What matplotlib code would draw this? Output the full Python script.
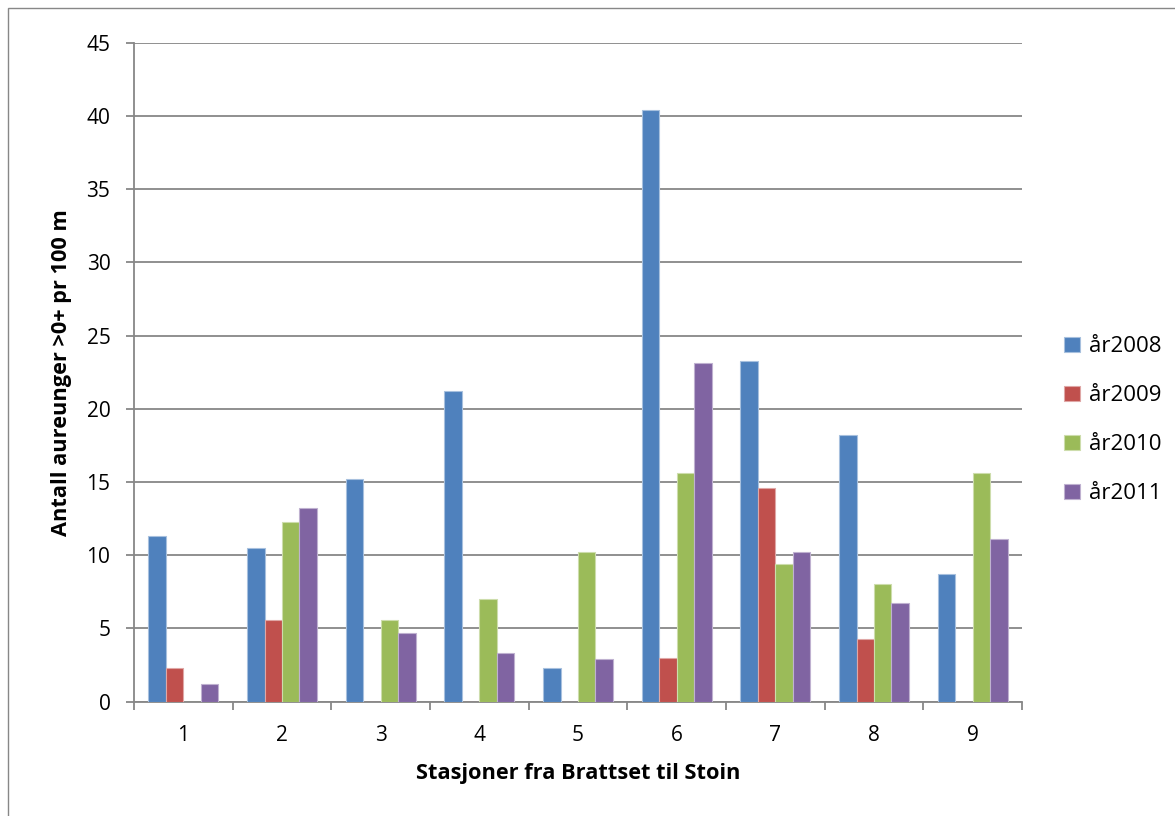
import numpy as np
import matplotlib.pyplot as plt
from matplotlib.patches import Rectangle

# stations 1..9, fish per 100 m per year
stasjoner = ["1", "2", "3", "4", "5", "6", "7", "8", "9"]
aar2008 = [11.3, 10.5, 15.2, 21.2, 2.3, 40.4, 23.3, 18.2, 8.7]
aar2009 = [2.3, 5.6, 0, 0, 0, 3.0, 14.6, 4.3, 0]
aar2010 = [0, 12.3, 5.6, 7.0, 10.2, 15.6, 9.4, 8.0, 15.6]
aar2011 = [1.2, 13.2, 4.7, 3.3, 2.9, 23.1, 10.2, 6.7, 11.1]
serienavn = ["år2008", "år2009", "år2010", "år2011"]
farger = ["#4F81BD", "#C0504D", "#9BBB59", "#8064A2"]
kanter = ["#A7C0DE", "#DFA7A6", "#CDDDAC", "#BFB1D0"]

plt.rcParams['font.family'] = ['Open Sans', 'DejaVu Sans']

fig = plt.figure(figsize=(11.75, 8.16), dpi=100)
fig.patches.append(Rectangle((8 / 1175, -0.1), 1.2, 1 - 8 / 816 + 0.1,
                             transform=fig.transFigure, fill=False,
                             edgecolor="#878787", linewidth=1.0))
ax = fig.add_axes([134 / 1175, 1 - 701.5 / 816, (1022 - 134) / 1175, (701.5 - 43) / 816])

x = np.arange(len(stasjoner))
w = 0.177
for i, (vals, navn) in enumerate(zip([aar2008, aar2009, aar2010, aar2011], serienavn)):
    ax.bar(x + (i - 1.5) * w, vals, width=w, color=farger[i], edgecolor=kanter[i],
           linewidth=0.8, label=navn, zorder=3)

ax.set_xlim(-0.5, len(stasjoner) - 0.5)
ax.set_ylim(0, 45)
ax.set_yticks(np.arange(0, 46, 5))
ax.yaxis.grid(True, color="#878787", linewidth=1.3, zorder=0)
ax.set_axisbelow(True)

# category labels in the middle, ticks on the boundaries
ax.set_xticks(x)
ax.set_xticklabels(stasjoner)
ax.set_xticks(np.arange(-0.5, len(stasjoner)), minor=True)
ax.tick_params(axis="x", which="major", length=0, pad=17, labelsize=15)
ax.tick_params(axis="x", which="minor", length=6, width=1.3, color="#878787", direction="out")
ax.tick_params(axis="y", length=6, width=1.3, color="#878787", pad=11, labelsize=15)

for side in ["top", "right"]:
    ax.spines[side].set_visible(False)
for side in ["left", "bottom"]:
    ax.spines[side].set_color("#878787")
    ax.spines[side].set_linewidth(1.3)

ax.set_xlabel("Stasjoner fra Brattset til Stoin", fontsize=15.7, fontweight="bold", labelpad=12)
ax.set_ylabel("Antall aureunger >0+ pr 100 m", fontsize=15.7, fontweight="bold", labelpad=10)

ax.legend(loc="center left", bbox_to_anchor=(1.025, 0.427), frameon=False, fontsize=16,
          handlelength=0.72, handleheight=0.72, labelspacing=1.26, handletextpad=0.4)

fig.savefig("out.png", dpi=100)
